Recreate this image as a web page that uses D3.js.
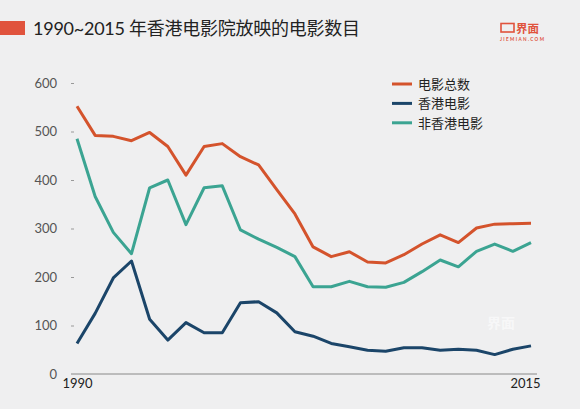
<!DOCTYPE html>
<html>
<head>
<meta charset="utf-8">
<script src="https://cdn.jsdelivr.net/npm/d3@7"></script>
<style>
  html, body { margin: 0; padding: 0; background: #efeff0; }
  svg { display: block; font-family: "Lato", "Noto Sans CJK SC", sans-serif; }
</style>
</head>
<body>
<svg id="chart" width="580" height="409"></svg>
<script>
// data
var years = d3.range(1990, 2016);
var totalFilms = [552, 492, 490, 481, 498, 469, 410, 469, 475, 448, 431, 380, 330, 262, 242, 252, 231, 229, 246, 268, 287, 271, 301, 309, 310, 311];
var hkFilms    = [63, 125, 198, 233, 113, 70, 106, 85, 85, 147, 149, 126, 87, 78, 63, 56, 49, 47, 54, 54, 49, 51, 49, 40, 51, 58];
var otherFilms = [485, 366, 292, 248, 384, 400, 308, 384, 388, 297, 278, 261, 242, 180, 180, 191, 180, 179, 189, 211, 235, 221, 253, 268, 253, 271];
var yTicks = [0, 100, 200, 300, 400, 500, 600];
var seriesNames = ["电影总数", "香港电影", "非香港电影"];
var seriesColors = ["#d4532c", "#1b4569", "#3ba492"];

var svg = d3.select("#chart");

// title
svg.append("rect")
  .attr("x", 0).attr("y", 21).attr("width", 25).attr("height", 14)
  .attr("fill", "#e0533d");
svg.append("text")
  .attr("x", 33).attr("y", 35)
  .attr("font-size", 18)
  .attr("fill", "#222")
  .attr("textLength", 327)
  .text("1990~2015 年香港电影院放映的电影数目");

// logo
var logo = svg.append("g").attr("fill", "#e0533d");
logo.append("rect")
  .attr("x", 501).attr("y", 23.5).attr("width", 13).attr("height", 8.5)
  .attr("fill", "none").attr("stroke", "#e0533d").attr("stroke-width", 1.6);
logo.append("text")
  .attr("x", 516).attr("y", 32.5)
  .attr("font-size", 11.5).attr("font-weight", "bold")
  .text("界面");
logo.append("text")
  .attr("x", 500).attr("y", 40.5)
  .attr("font-size", 4.6).attr("font-weight", "bold")
  .attr("textLength", 44)
  .text("JIEMIAN.COM");

// scales
var x = d3.scaleLinear().domain([1990, 2015]).range([77, 531]);
var y = d3.scaleLinear().domain([0, 600]).range([374, 83]);

// y axis: labels + tiny ticks, no domain line
var yAxis = svg.append("g")
  .attr("transform", "translate(74,0)")
  .call(d3.axisLeft(y).tickValues(yTicks).tickSize(3).tickPadding(14));
yAxis.select(".domain").remove();
yAxis.selectAll(".tick line").attr("stroke", "#999");
yAxis.selectAll("text")
  .attr("font-size", 13).attr("fill", "#555")
  .attr("font-family", "Lato, sans-serif");
yAxis.selectAll(".tick").filter(function(d) { return d === 0; }).select("line").remove();

// x axis line
svg.append("line")
  .attr("x1", 71).attr("x2", 537)
  .attr("y1", y(0)).attr("y2", y(0))
  .attr("stroke", "#888").attr("stroke-width", 1);

var xAxis = svg.append("g")
  .attr("transform", "translate(0," + y(0) + ")")
  .call(d3.axisBottom(x).tickValues([1990, 2015]).tickFormat(d3.format("d")).tickSize(0).tickPadding(5));
xAxis.select(".domain").remove();
xAxis.selectAll("text")
  .attr("font-size", 13).attr("fill", "#222")
  .attr("font-family", "Lato, sans-serif")
  .attr("dx", function(d) { return d === 2015 ? -6 : 0; });

// watermark
svg.append("text")
  .attr("x", 487).attr("y", 328)
  .attr("font-size", 14).attr("font-weight", "bold")
  .attr("fill", "#ffffff").attr("opacity", 0.55)
  .text("界面");

// lines
var line = d3.line()
  .x(function(d, i) { return x(years[i]); })
  .y(function(d) { return y(d); });

[otherFilms, hkFilms, totalFilms].forEach(function(s, k) {
  var idx = [2, 1, 0][k];
  svg.append("path")
    .datum(s)
    .attr("d", line)
    .attr("fill", "none")
    .attr("stroke", seriesColors[idx])
    .attr("stroke-width", 3)
    .attr("stroke-linejoin", "round");
});

// legend
var legend = svg.selectAll(".legend")
  .data(seriesNames)
  .enter().append("g")
  .attr("transform", function(d, i) { return "translate(392," + (84 + i * 19.4) + ")"; });
legend.append("line")
  .attr("x1", 0).attr("x2", 20)
  .attr("stroke", function(d, i) { return seriesColors[i]; })
  .attr("stroke-width", 3);
legend.append("text")
  .attr("x", 26).attr("y", 5)
  .attr("font-size", 13).attr("fill", "#222")
  .text(function(d) { return d; });
</script>
</body>
</html>
